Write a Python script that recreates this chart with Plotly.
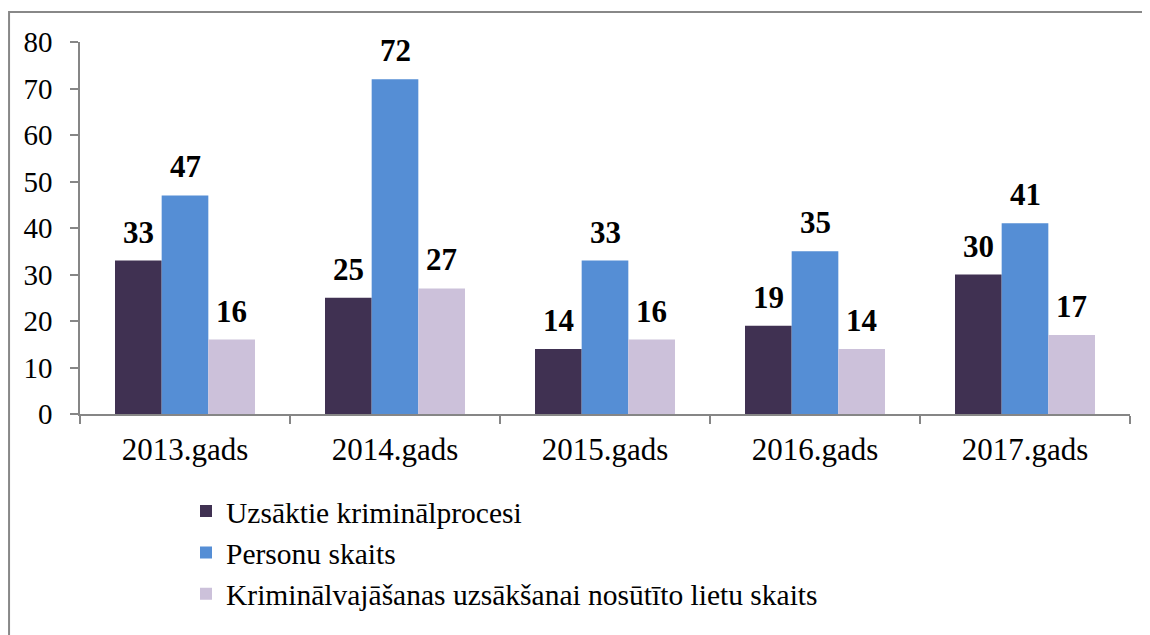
import plotly.graph_objects as go

categories = ["2013.gads", "2014.gads", "2015.gads", "2016.gads", "2017.gads"]
series_names = [
    "Uzsāktie kriminālprocesi",
    "Personu skaits",
    "Kriminālvajāšanas uzsākšanai nosūtīto lietu skaits",
]
uzsaktie = [33, 25, 14, 19, 30]
personas = [47, 72, 33, 35, 41]
nosutito = [16, 27, 16, 14, 17]
colors = ["#403152", "#558ED5", "#CCC1DA"]
y_ticks = [0, 10, 20, 30, 40, 50, 60, 70, 80]

series = [uzsaktie, personas, nosutito]
FONT = "Liberation Serif"

# page body has an 8px offset; figure coords = screen - 8
L, T = 72, 34
PW, PH = 1050, 372

fig = go.Figure()
for i, (name, vals, col) in enumerate(zip(series_names, series, colors)):
    fig.add_trace(go.Bar(
        x=categories, y=vals, name=name, marker=dict(color=col, line=dict(width=0)),
        legendgroup=f"g{i}",
    ))

bar_w = (1 - 1/3) / 3
annotations = []
for i, vals in enumerate(series):
    off = (i - 1) * bar_w
    for j, v in enumerate(vals):
        annotations.append(dict(
            x=j + off, y=v, xref="x", yref="y", text=f"<b>{v}</b>",
            showarrow=False, yanchor="bottom", yshift=9,
            font=dict(family=FONT, size=31, color="#000000"),
        ))

fig.update_layout(
    width=1150, height=635,
    margin=dict(l=L, r=1150 - L - PW, t=T, b=635 - T - PH, autoexpand=False),
    paper_bgcolor="white", plot_bgcolor="white",
    barmode="group", bargap=1/3, bargroupgap=0,
    font=dict(family=FONT, size=29, color="#000000"),
    showlegend=True,
    legend=dict(
        orientation="v", x=(178 - L) / PW, xanchor="left", y=-0.192, yanchor="top",
        font=dict(family=FONT, size=29.5, color="#000000"),
        tracegroupgap=0, itemwidth=30, bgcolor="rgba(0,0,0,0)",
    ),
    annotations=annotations,
    shapes=[dict(
        type="rect", xref="paper", yref="paper",
        x0=(0 - L) / PW + 0.001, x1=1.2, y0=-0.8, y1=(T + PH - 4) / PH,
        line=dict(color="#888888", width=2), fillcolor="rgba(0,0,0,0)", layer="below",
    )],
)
fig.update_xaxes(
    type="category", showline=True, linecolor="#868686", linewidth=1.5,
    ticks="outside", tickson="boundaries", ticklen=8, tickcolor="#868686", tickwidth=1.5,
    showgrid=False, zeroline=False, ticklabelstandoff=7,
    tickfont=dict(family=FONT, size=31, color="#000000"),
)
fig.update_yaxes(
    range=[0, 80], tickvals=y_ticks, showline=True, linecolor="#868686", linewidth=1.5,
    ticks="outside", ticklen=8, tickcolor="#868686", tickwidth=1.5,
    showgrid=False, zeroline=False, ticklabelstandoff=12,
    tickfont=dict(family=FONT, size=29, color="#000000"),
)

fig.write_html("out.html")
